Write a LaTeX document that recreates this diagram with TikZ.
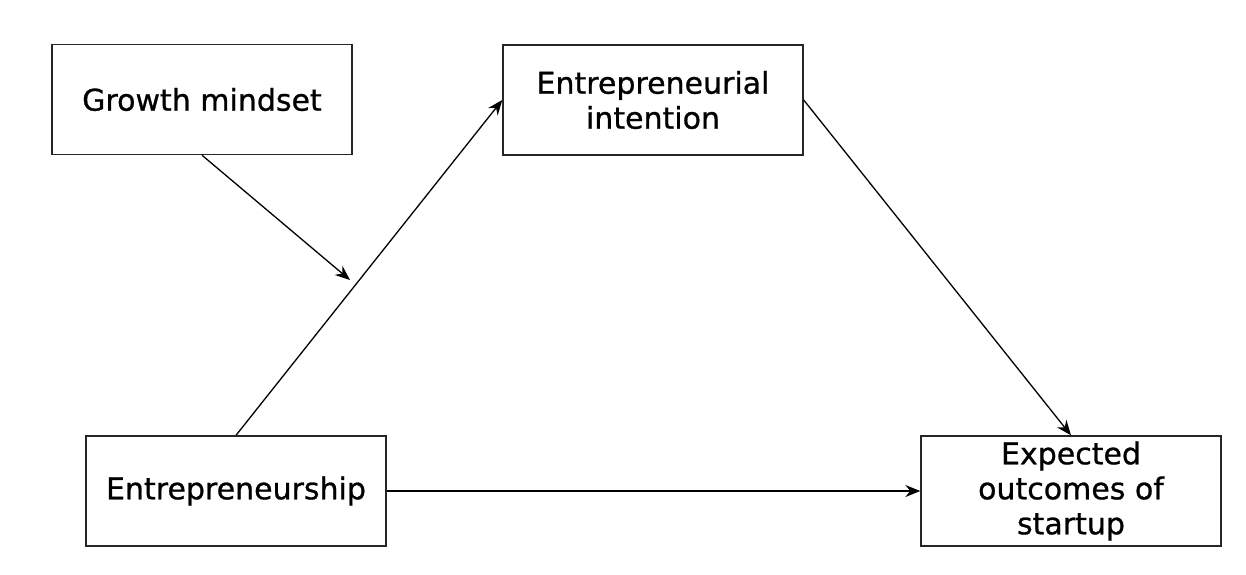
\documentclass[tikz,border=0pt]{standalone}
\usepackage{fontspec}
\setmainfont{DejaVu Sans}
\newfontfamily\boxfont{DejaVu Sans}[FakeBold=0.8]
\usetikzlibrary{arrows.meta}
\begin{document}
\begin{tikzpicture}[x=1pt,y=-1pt,
  box/.style={draw,line width=1.4pt,draw=black!85,minimum width=300pt,minimum height=110pt,inner sep=0pt,align=center,font=\boxfont\fontsize{30}{35}\selectfont},
  conn/.style={line width=1.3pt,-{Stealth[length=15pt,width=12pt,inset=5pt]}}]
\useasboundingbox (0,0) rectangle (1246,574);
\node[box] (gm) at (202,99.5) {Growth mindset};
\node[box] (ei) at (653,100) {Entrepreneurial\\intention};
\node[box] (en) at (236,491) {Entrepreneurship};
\node[box] (eo) at (1071,491) {Expected\\outcomes of\\startup};
\coordinate (mod) at (350,280);
\draw[conn] (en.north) -- (ei.west);
\draw[conn] (gm.south) -- (mod);
\draw[conn] (ei.east) -- (eo.north);
\draw[conn] (en.east) -- (eo.west);
\end{tikzpicture}
\end{document}
